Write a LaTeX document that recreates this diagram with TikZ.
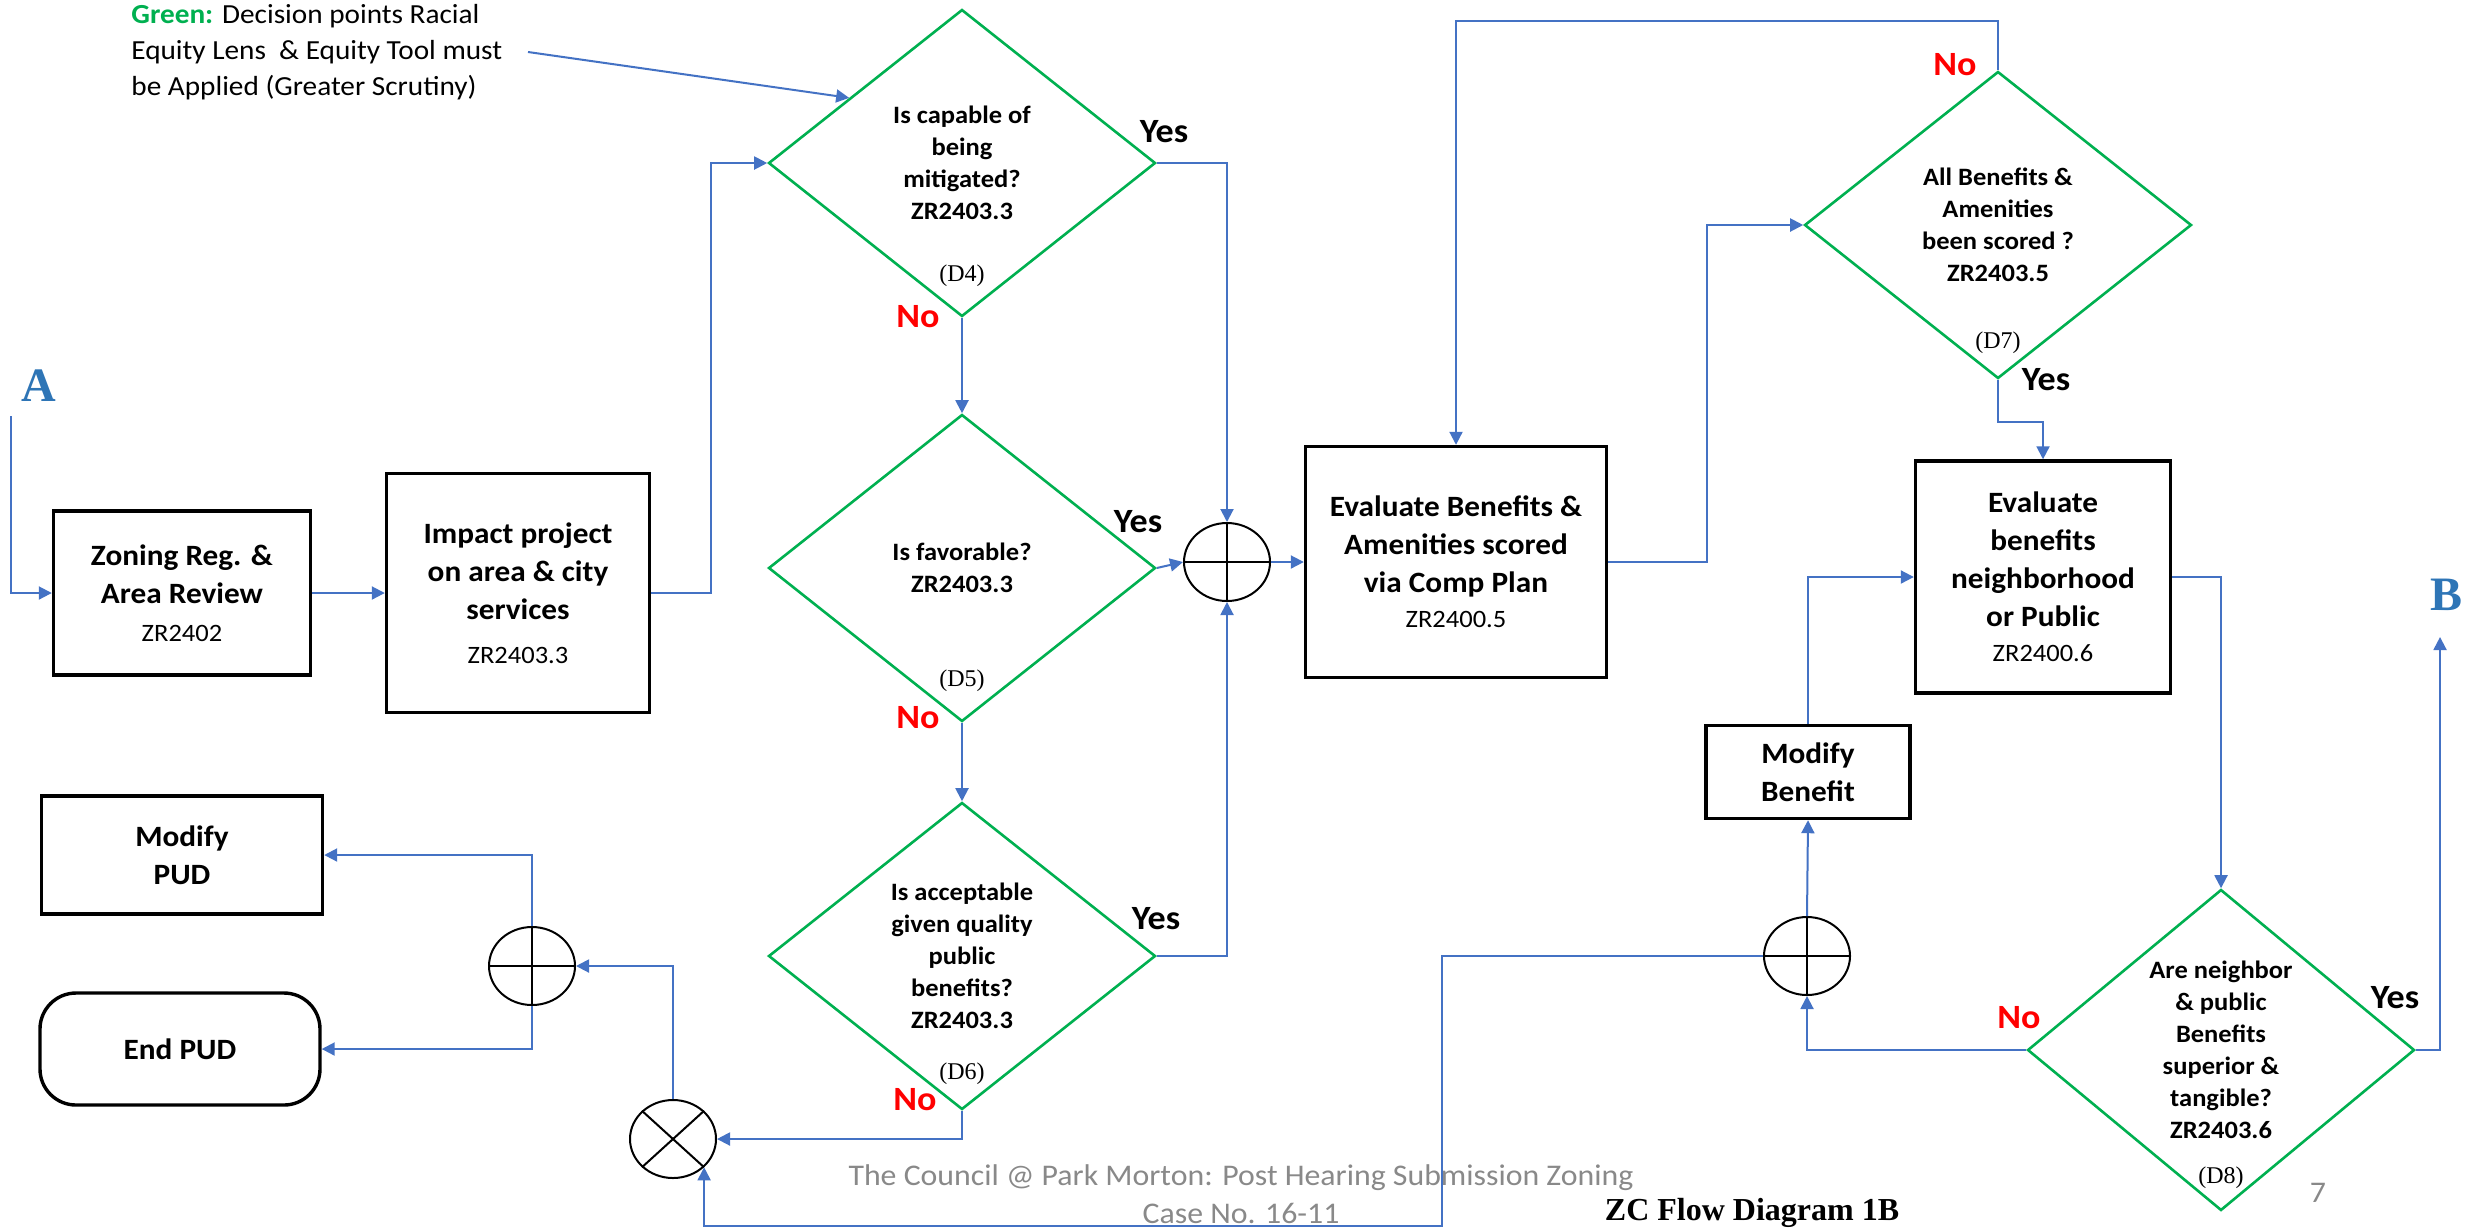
\documentclass[tikz,border=0pt]{standalone}
\usepackage{fontspec}
\setmainfont{Carlito}[FakeStretch=1.06]
\newfontfamily\timesfont{Liberation Serif}
\usetikzlibrary{shapes.geometric,arrows.meta}

\definecolor{lineblue}{RGB}{68,114,196}
\definecolor{decgreen}{RGB}{0,176,80}
\definecolor{nored}{RGB}{255,0,0}
\definecolor{footgray}{RGB}{137,137,137}
\definecolor{letterblue}{RGB}{46,117,182}

\newcommand{\zrcode}[1]{{\mdseries\fontsize{12.5}{16}\selectfont #1}}

\begin{document}
\begin{tikzpicture}[
		x=0.5pt, y=-0.5pt,
		every node/.style={inner sep=0pt},
		box/.style={rectangle, draw=black, line width=1.7pt, align=center, font=\fontsize{14.75}{19}\selectfont\bfseries},
		decision/.style={diamond, draw=decgreen, line width=1.3pt, minimum width=193.5pt, minimum height=153.5pt, align=center, font=\fontsize{12.5}{16}\selectfont\bfseries},
		joint/.style={ellipse, draw=black, line width=1pt, minimum width=43pt, minimum height=39pt},
		flow/.style={draw=lineblue, line width=1pt, -{Triangle[length=6.5pt, width=6.5pt]}},
		yeslab/.style={font=\fontsize{17}{20}\selectfont\bfseries},
		nolab/.style={yeslab, text=nored},
		dnum/.style={font=\timesfont\fontsize{12}{14}\selectfont},
		letter/.style={font=\timesfont\bfseries\fontsize{24}{28}\selectfont, text=letterblue}
	]
  \useasboundingbox (0, 0) rectangle (2471, 1228);

  \node (legend) [anchor=west, align=left, font=\fontsize{13.8}{18}\selectfont] at (131, 52) {\textcolor{decgreen}{\textbf{Green:}} Decision points Racial\\Equity Lens \ \& Equity Tool must\\be Applied (Greater Scrutiny)};
  \coordinate (legend_out) at (528, 52);

  \node (a) [letter] at (39, 386) {A};
  \node (b) [letter] at (2446, 595) {B};
  \coordinate (a_in) at (11, 416);
  \coordinate (b_in) at (2440, 637);

  \node (zoning) [box, minimum width=128.5pt, minimum height=82pt] at (182, 593) {Zoning Reg. \&\\Area Review\\\zrcode{ZR2402}};
  \node (impact) [box, minimum width=131.5pt, minimum height=119.5pt] at (518, 593) {Impact project\\on area \& city\\services\\[3pt]\zrcode{ZR2403.3}};
  \node (eval_1) [box, minimum width=150.5pt, minimum height=115.5pt] at (1456, 562) {Evaluate Benefits \&\\Amenities scored\\via Comp Plan\\[-1.5pt]\zrcode{ZR2400.5}};
  \node (eval_2) [box, minimum width=127.5pt, minimum height=116pt] at (2043, 577) {Evaluate\\benefits\\neighborhood\\or Public\\[-1.5pt]\zrcode{ZR2400.6}};
  \node (modify_b) [box, minimum width=102pt, minimum height=46.5pt] at (1808, 772) {Modify\\Benefit};
  \node (modify_pud) [box, minimum width=140.5pt, minimum height=59pt] at (182, 855) {Modify\\PUD};
  \node (end_pud) [box, rounded corners=18pt, minimum width=140pt, minimum height=56pt] at (180, 1049) {End PUD};

  \node (d_4) [decision] at (962, 163) {Is capable of\\being\\mitigated?\\ZR2403.3};
  \node (d_5) [decision] at (962, 568) {Is favorable?\\ZR2403.3};
  \node (d_6) [decision] at (962, 956) {Is acceptable\\given quality\\public\\benefits?\\ZR2403.3};
  \node (d_7) [decision] at (1998, 225) {All Benefits \&\\Amenities\\been scored ?\\ZR2403.5};
  \node (d_8) [decision] at (2221, 1050) {Are neighbor\\\& public\\Benefits\\superior \&\\tangible?\\ZR2403.6};
  \node (d_4_tag) [dnum] at (962, 276) {(D4)};
  \node (d_5_tag) [dnum] at (962, 681) {(D5)};
  \node (d_6_tag) [dnum] at (962, 1074) {(D6)};
  \node (d_7_tag) [dnum] at (1998, 343) {(D7)};
  \node (d_8_tag) [dnum] at (2221, 1178) {(D8)};

  \node (d_4_yes) [yeslab] at (1164, 132) {Yes};
  \node (d_4_no) [nolab] at (918, 317) {No};
  \node (d_5_yes) [yeslab] at (1138, 522) {Yes};
  \node (d_5_no) [nolab] at (918, 718) {No};
  \node (d_6_yes) [yeslab] at (1156, 919) {Yes};
  \node (d_6_no) [nolab] at (915, 1100) {No};
  \node (d_7_no) [nolab] at (1955, 65) {No};
  \node (d_7_yes) [yeslab] at (2046, 380) {Yes};
  \node (d_8_no) [nolab] at (2019, 1018) {No};
  \node (d_8_yes) [yeslab] at (2395, 998) {Yes};

  \node (plus_1) [joint] at (1227, 562) {};
  \node (plus_2) [joint] at (532, 966) {};
  \node (plus_3) [joint] at (1807, 956) {};
  \node (times) [joint] at (673, 1139) {};
  \draw [line width=1pt] (plus_1.north) -- (plus_1.south) (plus_1.west) -- (plus_1.east);
  \draw [line width=1pt] (plus_2.north) -- (plus_2.south) (plus_2.west) -- (plus_2.east);
  \draw [line width=1pt] (plus_3.north) -- (plus_3.south) (plus_3.west) -- (plus_3.east);
  \draw [line width=1pt] (times.north west) -- (times.south east) (times.north east) -- (times.south west);

  \node (footer) [font=\fontsize{15}{19}\selectfont, text=footgray, align=center] at (1241, 1194) {The Council @ Park Morton: Post Hearing Submission Zoning\\Case No. 16-11};
  \node (page_no) [font=\fontsize{15}{19}\selectfont, text=footgray] at (2318, 1193) {7};
  \node (title) [font=\timesfont\bfseries\fontsize{16}{19}\selectfont] at (1752, 1213) {ZC Flow Diagram 1B};

  \draw [flow] (a_in) |- (zoning.west);
  \draw [flow] (zoning.east) -- (impact.west);
  \draw [flow] (impact.east) -- ++(60, 0) |- (d_4.west);
  \draw [flow] (legend_out) -- (d_4.150);
  \draw [flow] (d_4.east) -| (plus_1.north);
  \draw [flow] (d_4.south) -- (d_5.north);
  \draw [flow] (d_5.east) -- (plus_1.west);
  \draw [flow] (d_5.south) -- (d_6.north);
  \draw [flow] (d_6.east) -| (plus_1.south);
  \draw [flow] (plus_1.east) -- (eval_1.west);
  \draw [flow] (eval_1.east) -- ++(99, 0) |- (d_7.west);
  \draw [flow] (d_7.north) -- ++(0, -49) -| (eval_1.north);
  \draw [flow] (d_7.south) -- ++(0, 42) -| (eval_2.north);
  \draw [flow] (eval_2.east) -| (d_8.north);
  \draw [flow] (d_8.east) -| (b_in);
  \draw [flow] (d_8.west) -| (plus_3.south);
  \draw [flow] (plus_3.north) -- (modify_b.south);
  \draw [flow] (modify_b.north) |- (eval_2.west);
  \draw [flow] (plus_3.west) -- ++(-321, 0) -- ++(0, 270) -| (times.south east);
  \draw [flow] (times.north) |- (plus_2.east);
  \draw [flow] (d_6.south) |- (times.east);
  \draw [flow] (plus_2.north) |- (modify_pud.east);
  \draw [flow] (plus_2.south) |- (end_pud.east);
\end{tikzpicture}
\end{document}
